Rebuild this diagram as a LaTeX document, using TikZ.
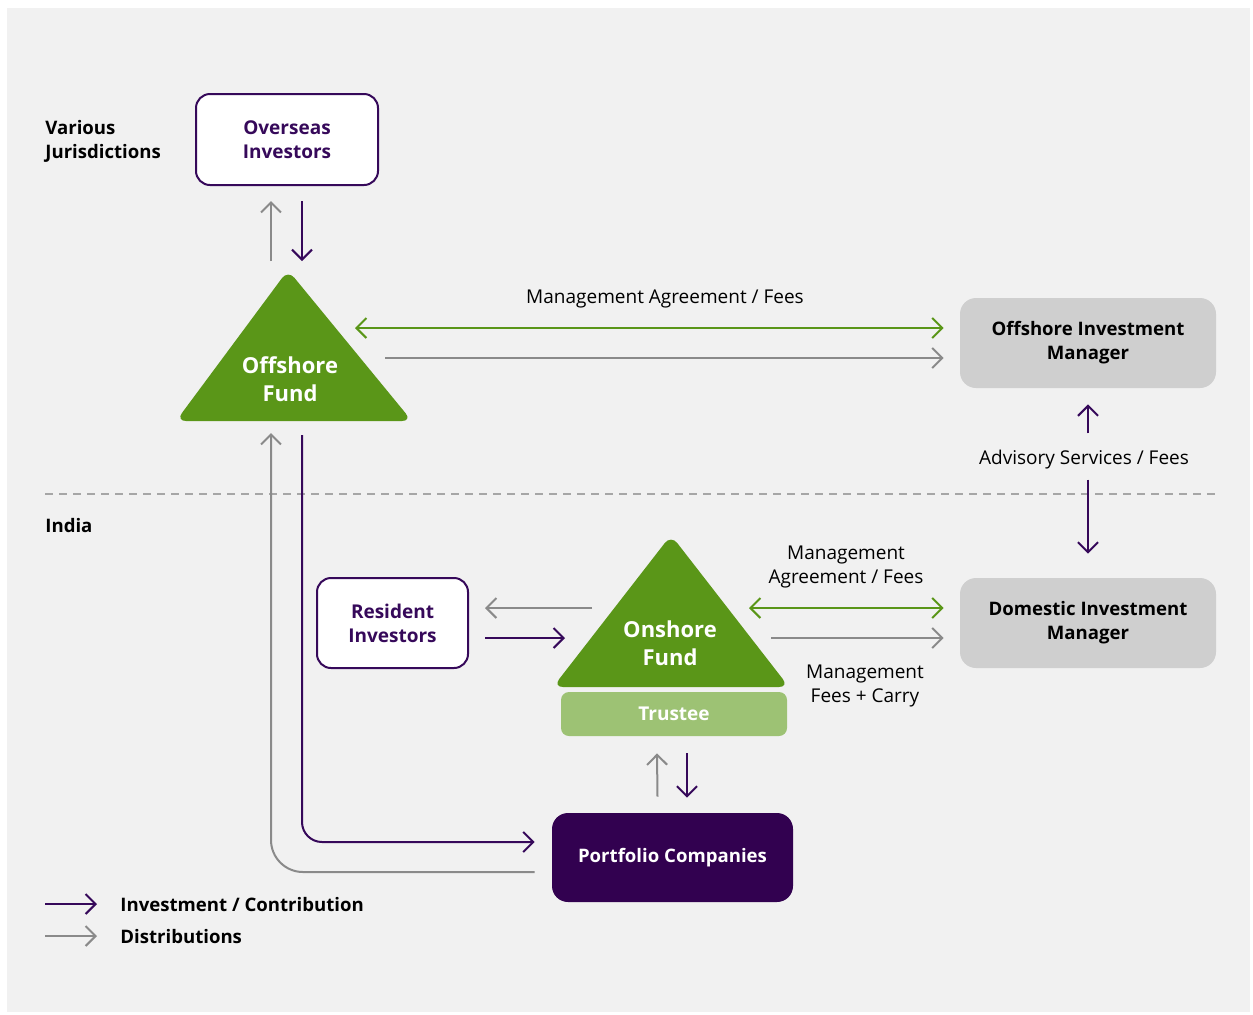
\documentclass[tikz,border=0pt]{standalone}
\usepackage{fontspec}
\setmainfont{Open Sans}
\usetikzlibrary{arrows.meta,positioning}
\definecolor{bgpanel}{HTML}{F1F1F1}
\definecolor{purp}{HTML}{36095A}
\definecolor{darkpurp}{HTML}{320150}
\definecolor{fundgreen}{HTML}{5A9618}
\definecolor{lightgreen}{HTML}{9DC274}
\definecolor{boxgray}{HTML}{CFCFCF}
\definecolor{distgray}{HTML}{8A8A8A}

\begin{document}
\begin{tikzpicture}[x=0.5pt,y=-0.5pt]
  \tikzset{invbox/.style = {draw=purp,fill=white,line width=1pt,rounded corners=7pt,align=center,text=purp,font=\bfseries\fontsize{9.5}{12}\selectfont}}
  \tikzset{mgrbox/.style = {fill=boxgray,rounded corners=8pt,align=center,minimum width=128pt,minimum height=45pt,font=\bfseries\fontsize{9.3}{12}\selectfont}}
  \tikzset{fundtext/.style = {text=white,align=center,font=\bfseries\fontsize{11}{14}\selectfont}}
  \tikzset{lbl/.style = {align=center,font=\fontsize{9.5}{12}\selectfont}}
  \tikzset{sidetext/.style = {anchor=west,inner sep=0pt,align=left,font=\bfseries\fontsize{9.3}{12}\selectfont}}
  \tikzset{opentip/.tip={Straight Barb[length=5pt,width=10pt]}}
  \tikzset{inv/.style = {-opentip,draw=purp,line width=1pt}}
  \tikzset{dist/.style = {-opentip,draw=distgray,line width=1pt}}
  \tikzset{mgmt/.style = {opentip-opentip,draw=fundgreen,line width=1pt}}

  \useasboundingbox (0,0) rectangle (1253,1014);
  \fill[white] (0,0) rectangle (1253,1014);
  \fill[bgpanel] (7,8) rectangle (1250,1012);

  % funds
  \fill[fundgreen,rounded corners=5pt] (288,270) -- (412,421) -- (176,421) -- cycle;
  \fill[fundgreen,rounded corners=5pt] (671,535) -- (789,687) -- (553,687) -- cycle;
  \node[fundtext] (off) at (290,379) {Offshore\\Fund};
  \node[fundtext] (on) at (670,643) {Onshore\\Fund};
  \node[fill=lightgreen,rounded corners=4pt,minimum width=113pt,minimum height=22pt,text=white,font=\bfseries\fontsize{9.5}{12}\selectfont] (trs) at (674,714) {Trustee};

  % investors and managers
  \node[invbox,minimum width=91pt,minimum height=45.5pt] (ovs) at (287,139.5) {Overseas\\Investors};
  \node[invbox,minimum width=75.5pt,minimum height=45pt] (res) at (392.5,623) {Resident\\Investors};
  \node[mgrbox] (oim) at (1088,343) {Offshore Investment\\Manager};
  \node[mgrbox] (dim) at (1088,623) {Domestic Investment\\Manager};
  \node[fill=darkpurp,rounded corners=8pt,minimum width=120.5pt,minimum height=44.5pt,text=white,font=\bfseries\fontsize{9.3}{12}\selectfont] (pfc) at (672.5,857.5) {Portfolio Companies};

  \node[sidetext] (jur) at (45,141) {Various\\Jurisdictions};
  \node[sidetext] (ind) at (45,526) {India};
  \draw[draw=gray!70,line width=0.75pt,dash pattern=on 4pt off 3pt] (45,494) -- (1216,494);

  \node[lbl] (lblma) at (665,299) {Management Agreement / Fees};
  \node[lbl] (lbladv) at (1084,460) {Advisory Services / Fees};
  \node[lbl] (lblon) at (846,567) {Management\\Agreement / Fees};
  \node[lbl] (lblfee) at (865,686) {Management\\Fees + Carry};

  \draw[dist] ([shift={(-16,75)}]ovs.south) -- ([shift={(-16,15)}]ovs.south);
  \draw[inv] ([shift={(15,15)}]ovs.south) -- ([shift={(15,75)}]ovs.south);

  \draw[mgmt] ([shift={(65,-51)}]off.center) -- ([shift={(-16,-15)}]oim.west);
  \draw[dist] ([shift={(95,-21)}]off.center) -- ([shift={(-16,15)}]oim.west);

  \draw[inv] ([shift={(0,45)}]oim.south) -- ([shift={(0,16)}]oim.south);
  \draw[inv] ([shift={(0,-98)}]dim.north) -- ([shift={(0,-24)}]dim.north);

  \draw[dist] ([shift={(-78,-35)}]on.center) -- ([shift={(16,-15)}]res.east);
  \draw[inv] ([shift={(16,15)}]res.east) -- ([shift={(-105,-5)}]on.center);
  \draw[mgmt] ([shift={(79,-35)}]on.center) -- ([shift={(-16,-15)}]dim.west);
  \draw[dist] ([shift={(101,-5)}]on.center) -- ([shift={(-16,15)}]dim.west);

  \draw[dist] ([shift={(-15,-16)}]pfc.north) -- ([shift={(-17,17)}]trs.south);
  \draw[inv] ([shift={(13,17)}]trs.south) -- ([shift={(14.5,-15)}]pfc.north);

  \draw[inv,rounded corners=10pt] ([shift={(12,56)}]off.center) |- ([shift={(-17,-15.5)}]pfc.west);
  \draw[dist,rounded corners=16pt] ([shift={(-17,14.5)}]pfc.west) -| ([shift={(-19,54)}]off.center);

  % legend
  \node[sidetext] (leginv) at (120,905) {Investment / Contribution};
  \node[sidetext] (legdist) at (120,937) {Distributions};
  \draw[inv] ([shift={(-75,-1)}]leginv.west) -- ([shift={(-23,-1)}]leginv.west);
  \draw[dist] ([shift={(-75,-1)}]legdist.west) -- ([shift={(-23,-1)}]legdist.west);
\end{tikzpicture}
\end{document}
